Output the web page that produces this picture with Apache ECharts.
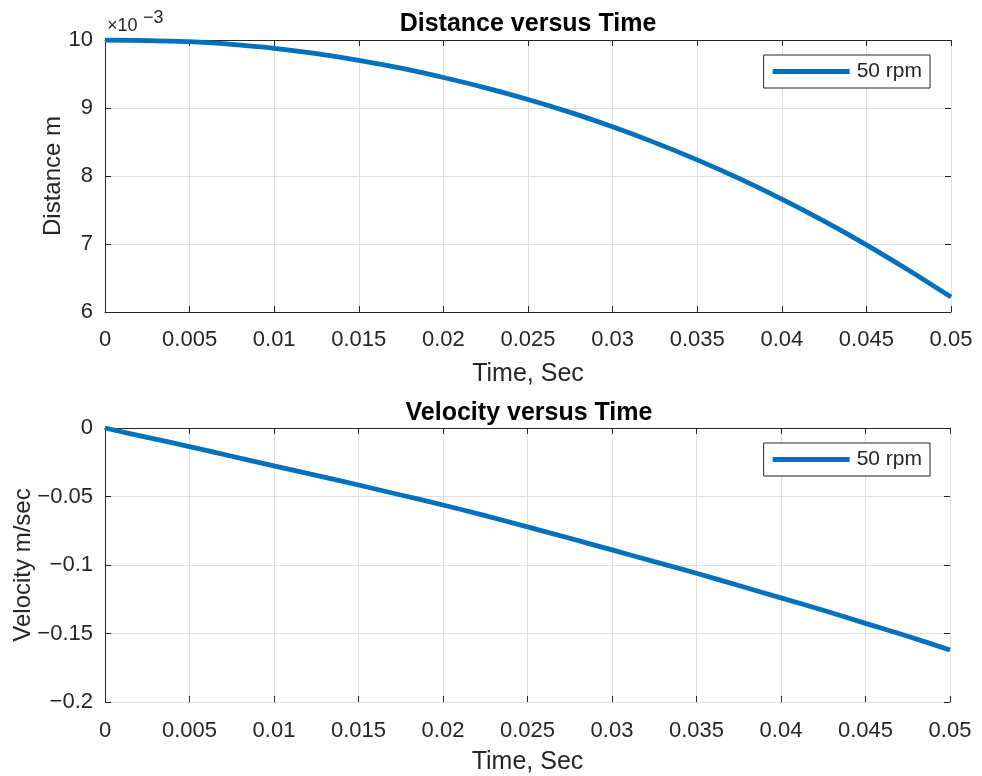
<!DOCTYPE html>
<html>
<head>
<meta charset="utf-8">
<script src="https://cdn.jsdelivr.net/npm/echarts@6/dist/echarts.min.js"></script>
<style>
html,body{margin:0;padding:0;background:#fff;}
#chart{width:982px;height:776px;}
</style>
</head>
<body>
<div id="chart"></div>
<script>
// Time samples (s)
const time = [0, 0.0025, 0.005, 0.0075, 0.01, 0.0125, 0.015, 0.0175, 0.02, 0.0225, 0.025,
              0.0275, 0.03, 0.0325, 0.035, 0.0375, 0.04, 0.0425, 0.045, 0.0475, 0.05];
// Distance in units of 10^-3 m
const distance_e3 = [10.000, 9.992, 9.975, 9.935, 9.878, 9.800, 9.702, 9.585, 9.448, 9.296, 9.126,
                     8.936, 8.724, 8.491, 8.237, 7.961, 7.660, 7.336, 6.988, 6.614, 6.220];
// Velocity in m/sec
const velocity = [0, -0.0068, -0.0136, -0.0206, -0.0277, -0.0346, -0.0416, -0.0489, -0.0562, -0.064, -0.0722,
                  -0.0805, -0.089, -0.0975, -0.106, -0.115, -0.124, -0.133, -0.1426, -0.152, -0.162];
const seriesName = '50 rpm';
const titles = ['Distance versus Time', 'Velocity versus Time'];
const xLabel = 'Time, Sec';
const yLabels = ['Distance m', 'Velocity m/sec'];
const xRange = [0, 0.05, 0.005];
const yRanges = [[6, 10, 1], [-0.2, 0, 0.05]];

const FONT = "'Liberation Sans', Arial, Helvetica, sans-serif";
const AX = '#262626';
const GRIDC = '#dfdfdf';
const LINEC = '#0072BD';
const TICKF = 22;
const NAMEF = 24;
const MINUS = '\u2212';
const TL = 6; // tick length

// plot boxes: [left, top, width, height]
const boxes = [[105, 40, 846, 272], [105, 428, 845, 274]];

const chart = echarts.init(document.getElementById('chart'));

const grids = [];
const xAxis = [];
const yAxis = [];

function hiddenAxis(gi) {
  return {type: 'value', gridIndex: gi, min: 0, max: 1, show: false};
}
function tickAxis(gi, pos, r) {
  return {
    type: 'value', gridIndex: gi, min: r[0], max: r[1], interval: r[2], position: pos,
    axisLine: {show: false},
    axisTick: {show: true, length: TL, lineStyle: {color: AX, width: 1}},
    axisLabel: {show: false}, splitLine: {show: false}
  };
}

const mainX = [], mainY = [];
boxes.forEach((b, p) => {
  const [l, t, w, h] = b;
  const yr = yRanges[p];
  // main grid
  const g0 = grids.length;
  grids.push({left: l, top: t, width: w, height: h, containLabel: false, outerBoundsMode: 'none'});
  mainX.push(xAxis.length);
  xAxis.push({
    type: 'value', gridIndex: g0, min: xRange[0], max: xRange[1], interval: xRange[2], position: 'bottom',
    name: xLabel, nameLocation: 'middle', nameGap: p === 0 ? 50 : 48, nameMoveOverlap: false,
    nameTextStyle: {fontFamily: FONT, fontSize: 25, color: AX},
    axisLine: {show: true, lineStyle: {color: AX, width: 1}},
    axisTick: {show: false},
    axisLabel: {fontFamily: FONT, fontSize: TICKF, color: AX, margin: p === 0 ? 17 : 18,
                formatter: v => String(+v.toFixed(4))},
    splitLine: {show: true, lineStyle: {color: GRIDC, width: 1}}
  });
  xAxis.push({
    type: 'value', gridIndex: g0, min: xRange[0], max: xRange[1], interval: xRange[2], position: 'top',
    axisLine: {show: true, lineStyle: {color: AX, width: 1}},
    axisTick: {show: false}, axisLabel: {show: false}, splitLine: {show: false}
  });
  mainY.push(yAxis.length);
  yAxis.push({
    type: 'value', gridIndex: g0, min: yr[0], max: yr[1], interval: yr[2], position: 'left',
    name: yLabels[p], nameLocation: 'middle', nameGap: p === 0 ? 40 : 70, nameMoveOverlap: false,
    nameTextStyle: {fontFamily: FONT, fontSize: NAMEF, color: AX},
    axisLine: {show: true, lineStyle: {color: AX, width: 1}},
    axisTick: {show: false},
    axisLabel: {fontFamily: FONT, fontSize: TICKF, color: AX, margin: 12,
                formatter: v => String(+v.toFixed(3)).replace('-', MINUS)},
    splitLine: {show: true, lineStyle: {color: GRIDC, width: 1}}
  });
  yAxis.push({
    type: 'value', gridIndex: g0, min: yr[0], max: yr[1], interval: yr[2], position: 'right',
    axisLine: {show: true, lineStyle: {color: AX, width: 1}},
    axisTick: {show: false}, axisLabel: {show: false}, splitLine: {show: false}
  });
  // grid shrunk vertically: x ticks pointing into the plot
  const g1 = grids.length;
  grids.push({left: l, top: t + TL, width: w, height: h - 2 * TL, containLabel: false, outerBoundsMode: 'none'});
  xAxis.push(tickAxis(g1, 'bottom', xRange));
  xAxis.push(tickAxis(g1, 'top', xRange));
  yAxis.push(hiddenAxis(g1));
  // grid shrunk horizontally: y ticks pointing into the plot
  const g2 = grids.length;
  grids.push({left: l + TL, top: t, width: w - 2 * TL, height: h, containLabel: false, outerBoundsMode: 'none'});
  yAxis.push(tickAxis(g2, 'left', yr));
  yAxis.push(tickAxis(g2, 'right', yr));
  xAxis.push(hiddenAxis(g2));
});

function legendAt(top) {
  return {
    data: [{name: seriesName, icon: 'rect'}], right: 52, top: top, orient: 'vertical',
    padding: [6, 8, 6, 9], itemWidth: 77, itemHeight: 5, itemGap: 5,
    itemStyle: {color: LINEC, borderWidth: 0},
    borderColor: AX, borderWidth: 1, backgroundColor: '#fff', borderRadius: 0,
    textStyle: {fontFamily: FONT, fontSize: 21, color: AX, padding: [0, 0, 0, 2]}
  };
}

const option = {
  backgroundColor: '#ffffff',
  animation: false,
  title: [
    {text: titles[0], left: 523, top: 7, textAlign: 'center',
     textStyle: {fontFamily: FONT, fontSize: 25, fontWeight: 'bold', color: '#000'}},
    {text: titles[1], left: 524, top: 396, textAlign: 'center',
     textStyle: {fontFamily: FONT, fontSize: 25, fontWeight: 'bold', color: '#000'}}
  ],
  grid: grids,
  legend: [legendAt(55), legendAt(443)],
  xAxis: xAxis,
  yAxis: yAxis,
  graphic: [
    {type: 'text', left: 107, top: 17,
     style: {text: '×10', fontFamily: FONT, fontSize: 18, fill: AX}},
    {type: 'text', left: 143, top: 9,
     style: {text: MINUS + '3', fontFamily: FONT, fontSize: 18, fill: AX}}
  ],
  series: [
    {name: seriesName, type: 'line', xAxisIndex: mainX[0], yAxisIndex: mainY[0], showSymbol: false, symbol: 'none',
     smooth: 0.3, lineStyle: {color: LINEC, width: 4.8}, itemStyle: {color: LINEC},
     data: time.map((t, i) => [t, distance_e3[i]])},
    {name: seriesName, type: 'line', xAxisIndex: mainX[1], yAxisIndex: mainY[1], showSymbol: false, symbol: 'none',
     smooth: 0.3, lineStyle: {color: LINEC, width: 4.8}, itemStyle: {color: LINEC},
     data: time.map((t, i) => [t, velocity[i]])}
  ]
};
chart.setOption(option);
</script>
</body>
</html>
